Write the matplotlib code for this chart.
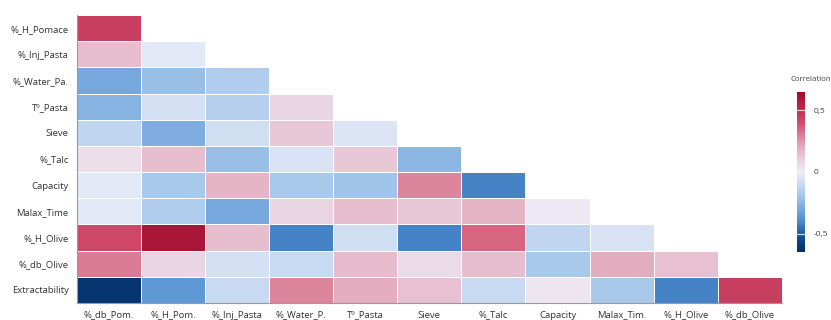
import numpy as np
import matplotlib.pyplot as plt
from matplotlib.colors import LinearSegmentedColormap

plt.rcParams['font.family'] = ['Open Sans', 'DejaVu Sans']

row_labels = ["%_H_Pomace", "%_Inj_Pasta", "%_Water_Pa.", "Tº_Pasta", "Sieve", "%_Talc",
              "Capacity", "Malax_Time", "%_H_Olive", "%_db_Olive", "Extractability"]
col_labels = ["%_db_Pom.", "%_H_Pom.", "%_Inj_Pasta", "%_Water_P.", "Tº_Pasta", "Sieve",
              "%_Talc", "Capacity", "Malax_Tim.", "%_H_Olive", "%_db_Olive"]

# lower triangle of the correlation matrix, one list per row
h_pomace = [0.45]
inj_pasta = [0.15, -0.03]
water_pa = [-0.30, -0.22, -0.16]
t_pasta = [-0.26, -0.07, -0.15, 0.08]
sieve = [-0.12, -0.28, -0.08, 0.12, -0.05]
talc = [0.05, 0.15, -0.22, -0.06, 0.12, -0.25]
capacity = [-0.03, -0.18, 0.18, -0.18, -0.20, 0.28, -0.42]
malax_time = [-0.03, -0.16, -0.30, 0.08, 0.15, 0.12, 0.18, 0.02]
h_olive = [0.42, 0.60, 0.15, -0.42, -0.08, -0.42, 0.35, -0.12, -0.06]
db_olive = [0.30, 0.08, -0.07, -0.10, 0.16, 0.06, 0.15, -0.18, 0.20, 0.14]
extractability = [-0.62, -0.36, -0.10, 0.28, 0.20, 0.14, -0.10, 0.03, -0.18, -0.42, 0.45]

rows = [h_pomace, inj_pasta, water_pa, t_pasta, sieve, talc,
        capacity, malax_time, h_olive, db_olive, extractability]

n = len(rows)
mat = np.full((n, n), np.nan)
for i, r in enumerate(rows):
    mat[i, :len(r)] = r
mat = np.ma.masked_invalid(mat)

vmin, vmax = -0.65, 0.65
stops = [(-0.65, "#002e66"), (-0.55, "#12468a"), (-0.4, "#4d8cd0"), (-0.2, "#a2c5ea"),
         (0.0, "#eeeef8"), (0.2, "#e4aec0"), (0.4, "#d24c6c"), (0.65, "#a00a2a")]
cmap = LinearSegmentedColormap.from_list(
    "corr", [((v - vmin) / (vmax - vmin), c) for v, c in stops])

fig = plt.figure(figsize=(8.31, 3.2), dpi=100)
ax = fig.add_axes([0.0927, 0.053, 0.848, 0.9])
mesh = ax.pcolormesh(np.arange(n + 1), np.arange(n + 1), mat, cmap=cmap,
                     vmin=vmin, vmax=vmax, edgecolors="white", linewidth=0.6)
ax.set_xlim(0, n)
ax.set_ylim(n, 0)
ax.set_xticks(np.arange(n) + 0.5)
ax.set_xticklabels(col_labels, fontsize=6.8, color="#333333")
ax.set_yticks(np.arange(n) + 0.5)
ax.set_yticklabels(row_labels, fontsize=6.8, color="#333333")
ax.tick_params(axis="y", length=0, pad=6)
ax.tick_params(axis="x", length=0, pad=5.4)
for s in ["top", "right"]:
    ax.spines[s].set_visible(False)
for s in ["left", "bottom"]:
    ax.spines[s].set_color("#999999")
    ax.spines[s].set_linewidth(0.8)

cax = fig.add_axes([0.959, 0.2125, 0.0096, 0.5])
cb = fig.colorbar(mesh, cax=cax)
cb.set_ticks([-0.5, 0, 0.5])
cb.set_ticklabels(["-0,5", "0", "0,5"])
cb.outline.set_visible(False)
cax.tick_params(labelsize=6, colors="#444444", length=0, pad=6)
for t in [-0.5, 0.5]:
    cax.axhline(t, color="white", linewidth=0.8, alpha=0.8)
fig.text(0.951, 0.742, "Correlation", fontsize=5.6, color="#444444", ha="left", va="bottom")

fig.savefig("out.png", dpi=100)
